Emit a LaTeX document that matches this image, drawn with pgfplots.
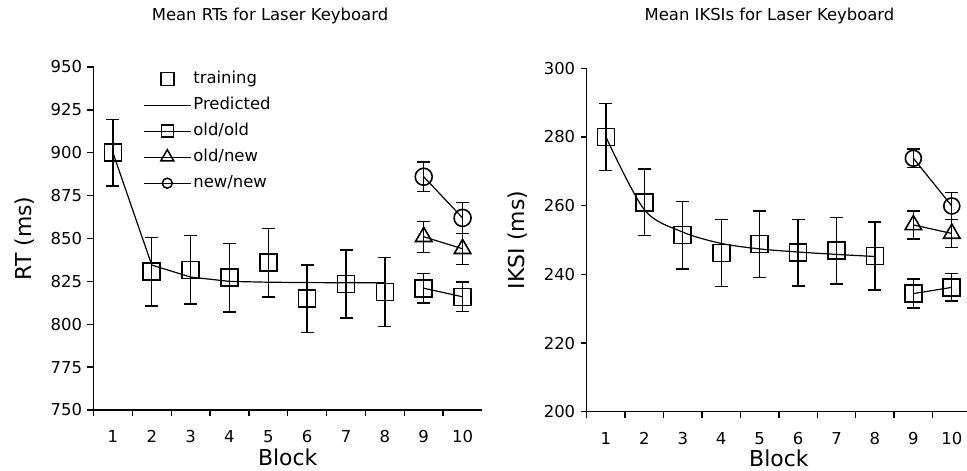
\documentclass[border=0pt]{standalone}
\usepackage{pgfplots}
\pgfplotsset{compat=1.18}
\usepackage{fontspec}
\setmainfont{DejaVu Sans}

\pgfplotsset{
  myaxis/.style={
    scale only axis,
    clip=false,
    axis x line=bottom, axis y line=left,
    axis line style={-, line width=1.4bp},
    tick align=outside,
    major tick length=6bp,
    tick style={black, line width=1.4bp},
    xmin=0.5, xmax=10.5,
    xtick={0.5,1.5,...,9.5},
    xticklabel={\pgfmathtruncatemacro\lab{round(\tick+0.5)}\lab},
    /pgf/number format/assume math mode=true,
    tick label style={font=\fontsize{16.5}{20}\selectfont},
    yticklabel style={xshift=-2bp},
    every axis x label/.style={at={([yshift=-47bp]axis description cs:0.5,0)}, anchor=center, inner sep=0pt, font=\fontsize{22}{26}\selectfont},
    every axis y label/.style={at={([xshift=-69bp]axis description cs:0,0.5)}, rotate=90, anchor=center, inner sep=0pt, font=\fontsize{22}{26}\selectfont},
  },
  errstyle/.style={
    error bars/y dir=both, error bars/y explicit,
    error bars/error bar style={line width=1.4bp},
    error bars/error mark options={rotate=90, mark size=6.5bp, line width=1.4bp}},
  trainstyle/.style={black, only marks, mark=square, mark size=8.5bp,
    mark options={line width=1.6bp}, errstyle},
  teststyle/.style={black, line width=1.2bp, mark options={line width=1.6bp}, errstyle},
}

\begin{document}
\begin{tikzpicture}
\useasboundingbox (0,0) rectangle (967bp,471bp);

\node[anchor=base, font=\fontsize{16.5}{20}\selectfont] at (270bp,450.3bp) {Mean RTs for Laser Keyboard};
\node[anchor=base, font=\fontsize{16.5}{20}\selectfont] at (769.5bp,450.3bp) {Mean IKSIs for Laser Keyboard};

% ---------------- Left: RT ----------------
\begin{axis}[myaxis,
  at={(93.5bp,61bp)}, anchor=south west,
  width=388.5bp, height=343bp,
  ymin=750, ymax=950, ytick={750,775,...,950},
  xticklabel style={xshift=19.4bp, yshift=-11bp},
  xlabel={Block}, ylabel={RT (ms)},
  legend style={at={(axis description cs:0,1)}, anchor=north west, xshift=49.5bp, yshift=-2bp,
    draw=none, fill=none, inner sep=0pt, row sep=6bp,
    font=\fontsize{16.5}{20}\selectfont,
    nodes={text height=12.5bp, text depth=3.5bp, inner sep=2bp}},
  legend cell align=left,
  legend image code/.code={\draw[mark repeat=2,mark phase=2,#1] plot coordinates {(0bp,0bp) (23.5bp,0bp) (47bp,0bp)};},
]
\addlegendimage{legend image code/.code={\draw[black, line width=1.5bp] (23.5bp,0bp) +(-6.5bp,-6.5bp) rectangle +(6.5bp,6.5bp);}}
\addlegendentry{training}
\addlegendimage{black, line width=1.2bp}
\addlegendentry{Predicted}
\addlegendimage{black, line width=1.2bp, mark=square, mark size=6bp, mark options={line width=1.5bp}}
\addlegendentry{old/old}
\addlegendimage{black, line width=1.2bp, mark=triangle, mark size=7.5bp, mark options={line width=1.5bp}}
\addlegendentry{old/new}
\addlegendimage{black, line width=1.2bp, mark=o, mark size=5bp, mark options={line width=1.5bp}}
\addlegendentry{new/new}

% predicted
\addplot[forget plot, black, line width=1.2bp] table {
x y
1 900
2 834.5
3 827.5
4 825
5 824.5
6 824.3
7 824.2
8 824.2
};
% training
\addplot[forget plot, trainstyle] table[y error=e] {
x y e
1 900 19.5
2 830.6 20
3 831.7 20
4 827.1 20
5 836 20
6 814.9 19.6
7 823.5 19.8
8 818.9 20.1
};
% old/old
\addplot[forget plot, teststyle, mark=square, mark size=8.5bp] table[y error=e] {
x y e
9 821 8.6
10 816 8.6
};
% old/new
\addplot[forget plot, teststyle, mark=triangle, mark size=9.5bp] table[y error=e] {
x y e
9 851 9
10 844 9
};
% new/new
\addplot[forget plot, teststyle, mark=o, mark size=8.5bp] table[y error=e] {
x y e
9 886 8.6
10 862 9
};
\end{axis}

% ---------------- Right: IKSI ----------------
\begin{axis}[myaxis,
  at={(586.7bp,59.3bp)}, anchor=south west,
  width=384.3bp, height=343.4bp,
  ymin=200, ymax=300, ytick={200,220,...,300},
  xticklabel style={xshift=19.2bp, yshift=-11bp},
  xlabel={Block}, ylabel={IKSI (ms)},
]
% predicted
\addplot[black, line width=1.2bp, smooth, tension=0.5] table {
x y
1 280
2 258.8
3 252.3
4 249
5 247.4
6 246.5
7 245.8
8 245.2
};
% training
\addplot[trainstyle] table[y error=e] {
x y e
1 280 9.7
2 261 9.7
3 251.4 9.8
4 246.2 9.8
5 248.8 9.7
6 246.3 9.7
7 246.9 9.7
8 245.3 9.9
};
% old/old
\addplot[teststyle, mark=square, mark size=8.5bp] table[y error=e] {
x y e
9 234.4 4.2
10 236.2 4
};
% old/new
\addplot[teststyle, mark=triangle, mark size=9.5bp] table[y error=e] {
x y e
9 254.4 4.1
10 251.9 4
};
% new/new
\addplot[teststyle, mark=o, mark size=8bp] table[y error=e] {
x y e
9 273.8 2.7
10 259.9 4
};
\end{axis}
\end{tikzpicture}
\end{document}
